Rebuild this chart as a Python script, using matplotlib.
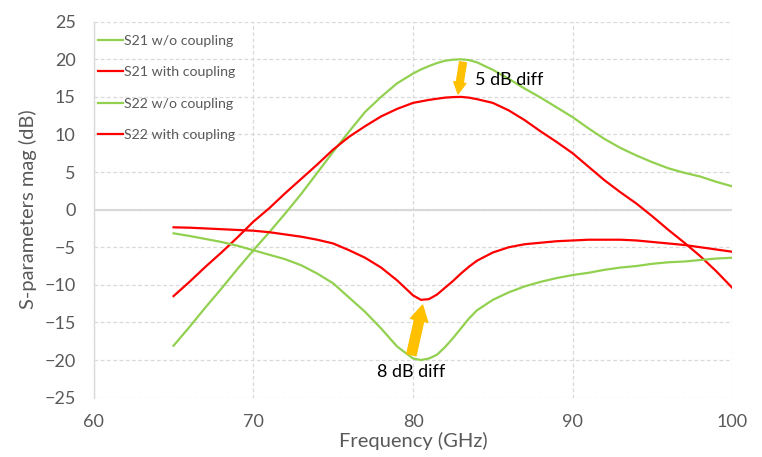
import numpy as np
import matplotlib
matplotlib.use('Agg')
import matplotlib.pyplot as plt

plt.rcParams['font.family'] = ['Lato', 'DejaVu Sans']

# 데이터
freq = [65, 66, 67, 68, 69, 70, 71, 72, 73, 74, 75, 76, 77, 78, 79, 80, 80.5,
        81, 81.5, 82, 82.5, 83, 83.5, 84, 85, 86, 87, 88, 89, 90, 91, 92, 93,
        94, 95, 96, 97, 98, 99, 100]

s21_wo = [-18.1, -15.6, -13.0, -10.5, -7.9, -5.4, -3.0, -0.5, 2.1, 4.9, 7.7,
          10.4, 13.0, 15.0, 16.8, 18.1, 18.65, 19.1, 19.5, 19.8, 19.95, 20.0,
          19.9, 19.6, 18.6, 17.4, 16.1, 14.9, 13.6, 12.3, 10.8, 9.4, 8.2, 7.2,
          6.3, 5.5, 4.9, 4.4, 3.7, 3.1]

s21_with = [-11.5, -9.6, -7.6, -5.7, -3.7, -1.6, 0.2, 2.2, 4.1, 6.0, 8.0, 9.7,
            11.1, 12.4, 13.4, 14.2, 14.4, 14.6, 14.75, 14.9, 14.97, 15.0, 14.9,
            14.7, 14.2, 13.2, 11.9, 10.4, 9.0, 7.5, 5.7, 3.9, 2.3, 0.8, -0.9,
            -2.7, -4.4, -6.2, -8.2, -10.4]

s22_wo = [-3.15, -3.5, -3.9, -4.3, -4.8, -5.4, -6.0, -6.6, -7.4, -8.5, -9.8,
          -11.7, -13.6, -15.8, -18.2, -19.8, -20.0, -19.8, -19.3, -18.3, -17.1,
          -15.8, -14.5, -13.4, -12.0, -11.0, -10.2, -9.6, -9.1, -8.7, -8.4,
          -8.0, -7.7, -7.5, -7.2, -7.0, -6.9, -6.7, -6.5, -6.4]

s22_with = [-2.35, -2.4, -2.5, -2.6, -2.7, -2.8, -3.0, -3.3, -3.6, -4.0, -4.5,
            -5.4, -6.4, -7.7, -9.4, -11.4, -12.0, -11.9, -11.3, -10.4, -9.5,
            -8.5, -7.6, -6.8, -5.7, -5.0, -4.6, -4.4, -4.2, -4.1, -4.0, -4.0,
            -4.0, -4.1, -4.3, -4.5, -4.7, -5.0, -5.3, -5.6]

GREEN = '#92D050'
RED = '#FF0000'
GRAY = '#595959'
GRID = '#D9D9D9'

fig = plt.figure(figsize=(7.62, 4.57), dpi=100)
ax = fig.add_axes([0.123, 0.130, 0.838, 0.8225])

ax.plot(freq, s21_wo, color=GREEN, lw=1.6, label='S21 w/o coupling')
ax.plot(freq, s21_with, color=RED, lw=1.6, label='S21 with coupling')
ax.plot(freq, s22_wo, color=GREEN, lw=1.6, label='S22 w/o coupling')
ax.plot(freq, s22_with, color=RED, lw=1.6, label='S22 with coupling')

ax.set_xlim(60, 100)
ax.set_ylim(-25, 25)
ax.set_xticks(np.arange(60, 101, 10))
ax.set_yticks(np.arange(-25, 26, 5))

# 격자
ax.grid(True, color=GRID, linestyle=(0, (3, 2)), lw=0.9)
ax.axhline(0, color=GRID, lw=1.5, zorder=1)
for s in ['top', 'right', 'bottom']:
    ax.spines[s].set_visible(False)
ax.spines['left'].set_color(GRID)
ax.spines['left'].set_linewidth(1.0)
ax.tick_params(length=0, colors=GRAY, labelsize=13)
ax.tick_params(axis='y', pad=13)
ax.tick_params(axis='x', pad=12)

ax.set_xlabel('Frequency (GHz)', color=GRAY, fontsize=14.5, labelpad=1)
ax.set_ylabel('S-parameters mag (dB)', color=GRAY, fontsize=14.5, labelpad=5)

leg = ax.legend(loc='upper left', frameon=False, fontsize=10.2,
                labelspacing=1.38, handlelength=1.75, handletextpad=0.1,
                borderaxespad=0.0, borderpad=0.3, bbox_to_anchor=(0.0, 0.977))
for t in leg.get_texts():
    t.set_color(GRAY)

# 화살표 주석
ax.annotate('', xy=(82.82, 15.4), xytext=(83.13, 19.6),
            arrowprops=dict(arrowstyle='simple,head_length=0.75,head_width=0.8,tail_width=0.45',
                            color='#FFC000', shrinkA=0, shrinkB=0, mutation_scale=11))
ax.text(83.9, 17.2, '5 dB diff', fontsize=13, ha='left', va='center', color='black')

ax.annotate('', xy=(80.6, -12.7), xytext=(79.9, -19.3),
            arrowprops=dict(arrowstyle='simple,head_length=0.75,head_width=0.85,tail_width=0.45',
                            color='#FFC000', shrinkA=0, shrinkB=0, mutation_scale=15))
ax.text(79.9, -21.6, '8 dB diff', fontsize=13, ha='center', va='center', color='black')

plt.savefig('out.png', dpi=100)
